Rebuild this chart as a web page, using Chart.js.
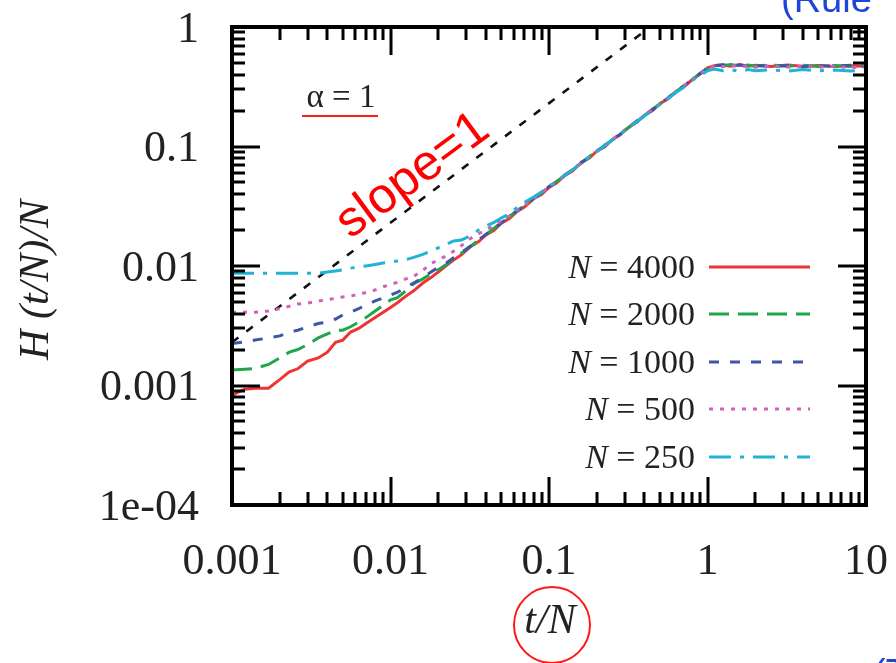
<!DOCTYPE html>
<html><head><meta charset="utf-8">
<script src="https://cdn.jsdelivr.net/npm/chart.js@4.4.1/dist/chart.umd.min.js"></script>
<style>html,body{margin:0;padding:0;background:#fff;}#wrap{width:896px;height:663px;position:relative;}</style>
</head><body><div id="wrap"><canvas id="c" width="896" height="663"></canvas></div>
<script>
// ---- data ----
const tOverN = [0.001,0.0012,0.0014,0.0017,0.002,0.0023,0.0026,0.003,0.0035,0.004,0.0045,0.005,0.0056,0.0063,0.007,0.008,0.009,0.01,0.011,0.0125,0.014,0.016,0.018,0.02,0.0225,0.025,0.028,0.032,0.036,0.04,0.045,0.05,0.056,0.063,0.07,0.08,0.09,0.1,0.112,0.125,0.14,0.16,0.18,0.2,0.225,0.25,0.28,0.32,0.36,0.4,0.45,0.5,0.56,0.63,0.7,0.8,0.9,1.0,1.1,1.25,1.4,1.6,1.8,2.0,2.5,3.2,4.0,5.0,6.3,8.0,10.0];
const h4000 = [0.00083,0.00093,0.00095,0.00095,0.00112,0.0013,0.00138,0.0016,0.0017,0.0019,0.0023,0.0024,0.0028,0.003,0.0033,0.0037,0.0041,0.0045,0.0049,0.0056,0.0062,0.0072,0.008,0.0089,0.0101,0.0112,0.0124,0.0145,0.016,0.0182,0.0199,0.0228,0.0248,0.0286,0.0312,0.0365,0.0398,0.0455,0.0497,0.057,0.062,0.0735,0.08,0.0915,0.0995,0.114,0.125,0.146,0.16,0.183,0.2,0.228,0.25,0.288,0.312,0.362,0.405,0.455,0.475,0.48,0.47,0.485,0.47,0.478,0.468,0.48,0.47,0.476,0.468,0.474,0.47];
const h2000 = [0.00135,0.00137,0.00139,0.0015,0.0017,0.0019,0.002,0.0022,0.0025,0.0027,0.0029,0.0029,0.0031,0.0034,0.0037,0.0042,0.0047,0.0052,0.0054,0.0062,0.0071,0.0078,0.0086,0.0093,0.0103,0.0115,0.0128,0.0146,0.0165,0.0183,0.0207,0.0229,0.0258,0.029,0.0318,0.0368,0.041,0.0458,0.0512,0.0568,0.0645,0.0725,0.0825,0.0905,0.103,0.113,0.128,0.145,0.165,0.181,0.206,0.226,0.256,0.285,0.32,0.362,0.41,0.452,0.48,0.475,0.485,0.472,0.48,0.47,0.482,0.47,0.478,0.468,0.476,0.47,0.472];
const h1000 = [0.00225,0.00232,0.0024,0.0025,0.0026,0.0028,0.0029,0.0031,0.0033,0.0034,0.0036,0.0039,0.0041,0.0044,0.0047,0.0051,0.0054,0.0057,0.006,0.0066,0.0072,0.008,0.0089,0.0097,0.0106,0.0117,0.0129,0.0147,0.0166,0.0184,0.0205,0.023,0.0255,0.0292,0.0316,0.037,0.0405,0.0462,0.0505,0.0575,0.0632,0.074,0.081,0.092,0.101,0.115,0.126,0.147,0.162,0.184,0.202,0.23,0.252,0.29,0.315,0.365,0.408,0.455,0.475,0.482,0.47,0.48,0.468,0.478,0.47,0.476,0.465,0.475,0.47,0.478,0.468];
const h500 = [0.0041,0.0041,0.0041,0.0042,0.0044,0.0046,0.0048,0.0049,0.0051,0.0052,0.0054,0.0055,0.0056,0.0058,0.006,0.0063,0.0067,0.007,0.0073,0.0078,0.0082,0.0092,0.0105,0.0112,0.0122,0.0133,0.0148,0.017,0.0186,0.0201,0.0218,0.0238,0.0262,0.0294,0.0322,0.0366,0.0412,0.046,0.051,0.0565,0.064,0.0728,0.082,0.091,0.1025,0.1135,0.127,0.1455,0.163,0.182,0.205,0.227,0.254,0.287,0.318,0.364,0.408,0.452,0.47,0.465,0.478,0.462,0.475,0.46,0.472,0.462,0.47,0.46,0.468,0.458,0.465];
const h250 = [0.0087,0.0087,0.0087,0.0087,0.0087,0.0087,0.0087,0.0087,0.0087,0.0089,0.0091,0.0093,0.0096,0.0098,0.01,0.0103,0.0106,0.0108,0.011,0.0113,0.0118,0.0125,0.0133,0.0142,0.0152,0.0162,0.0165,0.018,0.02,0.0216,0.0232,0.0252,0.0272,0.031,0.034,0.0378,0.0418,0.0465,0.0512,0.0575,0.0636,0.073,0.0818,0.0905,0.102,0.1125,0.1265,0.144,0.162,0.18,0.203,0.224,0.25,0.282,0.31,0.356,0.395,0.43,0.445,0.43,0.44,0.425,0.44,0.43,0.438,0.428,0.44,0.43,0.436,0.428,0.44];
const seriesN = ['4000','2000','1000','500','250'];
const slopeX = [0.001, 1];
const slopeY = [0.0023, 2.3];
const xTickValues = [0.001,0.01,0.1,1,10];
const xTickLabels = ['0.001','0.01','0.1','1','10'];
const yTickValues = [0.0001,0.001,0.01,0.1,1];
const yTickLabels = ['1e-04','0.001','0.01','0.1','1'];

const toPts = (xs, ys) => xs.map((x, i) => ({x: x, y: ys[i]}));
const styles = [
  {c:'#f03434', d:[]},
  {c:'#1fa54a', d:[20,9]},
  {c:'#3f55a8', d:[10,11]},
  {c:'#d160b8', d:[4,7]},
  {c:'#22b2d6', d:[22,9,4,9]}
];
const seriesY = [h4000,h2000,h1000,h500,h250];
const datasets = seriesY.map((ys, i) => ({
  label: 'N = ' + seriesN[i],
  data: toPts(tOverN, ys),
  borderColor: styles[i].c, borderDash: styles[i].d, borderWidth: 3,
  order: 5 - i, pointRadius: 0, showLine: true, fill: false
}));
datasets.push({label:'slope', data: toPts(slopeX, slopeY), borderColor:'#111', borderDash:[8,10], borderWidth:2.6, order: 10, pointRadius:0, showLine:true, fill:false});

const SERIF = '"Liberation Serif", "DejaVu Serif", serif';
const SANS = '"Liberation Sans", Arial, sans-serif';

const decor = {
  id: 'decor',
  afterDatasetsDraw(chart) {
    const {ctx, chartArea: a, scales: {x, y}} = chart;
    ctx.save();
    ctx.strokeStyle = '#000'; ctx.lineWidth = 3; ctx.lineCap = 'butt';
    const major = 28, minor = 13;
    ctx.beginPath();
    for (let e = -3; e <= 0; e++) {
      for (let m = 1; m <= 9; m++) {
        const v = m * Math.pow(10, e);
        const px = Math.round(x.getPixelForValue(v));
        const L = m === 1 ? major : minor;
        ctx.moveTo(px, a.bottom); ctx.lineTo(px, a.bottom - L);
        ctx.moveTo(px, a.top); ctx.lineTo(px, a.top + L);
      }
    }
    for (let e = -4; e <= -1; e++) {
      for (let m = 1; m <= 9; m++) {
        const v = m * Math.pow(10, e);
        const py = Math.round(y.getPixelForValue(v));
        const L = m === 1 ? major : minor;
        ctx.moveTo(a.left, py); ctx.lineTo(a.left + L, py);
        ctx.moveTo(a.right, py); ctx.lineTo(a.right - L, py);
      }
    }
    ctx.stroke();
    ctx.lineWidth = 4;
    ctx.strokeRect(a.left, a.top, a.right - a.left, a.bottom - a.top);

    // tick labels, placed with the scales
    ctx.fillStyle = '#222';
    ctx.font = '44px ' + SERIF;
    ctx.textBaseline = 'middle';
    ctx.textAlign = 'center';
    xTickValues.forEach((v, i) => ctx.fillText(xTickLabels[i], x.getPixelForValue(v), a.bottom + 57));
    ctx.textAlign = 'right';
    yTickValues.forEach((v, i) => ctx.fillText(yTickLabels[i], a.left - 33, y.getPixelForValue(v) + 3));

    // legend (text left, sample line right)
    const rows = [267, 314, 362, 409, 457];
    chart.data.datasets.slice(0, 5).forEach((ds, i) => {
      const yy = rows[i];
      ctx.textBaseline = 'middle';
      ctx.fillStyle = '#222';
      ctx.font = '34px ' + SERIF;
      const rest = ' = ' + seriesN[i];
      const wr = ctx.measureText(rest).width;
      ctx.textAlign = 'right';
      ctx.fillText(rest, 695, yy + 2);
      ctx.font = 'italic 34px ' + SERIF;
      ctx.fillText('N', 695 - wr, yy + 2);
      ctx.strokeStyle = ds.borderColor; ctx.lineWidth = 3;
      ctx.setLineDash(ds.borderDash);
      ctx.beginPath(); ctx.moveTo(709, yy); ctx.lineTo(810, yy); ctx.stroke();
      ctx.setLineDash([]);
    });

    // alpha label
    ctx.fillStyle = '#222'; ctx.textAlign = 'center'; ctx.textBaseline = 'alphabetic';
    ctx.font = '33px ' + SERIF;
    ctx.fillText('\u03b1 = 1', 341, 107);
    ctx.strokeStyle = '#ff1a1a'; ctx.lineWidth = 2;
    ctx.beginPath(); ctx.moveTo(302, 116); ctx.lineTo(378, 116); ctx.stroke();

    // slope label
    ctx.save();
    ctx.translate(413, 176); ctx.rotate(-36.5 * Math.PI / 180);
    ctx.fillStyle = '#ff0000'; ctx.font = '50px ' + SANS;
    ctx.textAlign = 'center'; ctx.textBaseline = 'middle';
    ctx.fillText('slope=1', 0, 0);
    ctx.restore();

    // axis titles
    ctx.fillStyle = '#222';
    ctx.font = 'italic 42px ' + SERIF; ctx.textAlign = 'center'; ctx.textBaseline = 'middle';
    ctx.fillText('t/N', 550, 622);
    ctx.strokeStyle = '#ff1a1a'; ctx.lineWidth = 2;
    ctx.beginPath(); ctx.arc(552, 625, 38, 0, Math.PI * 2); ctx.stroke();
    ctx.save();
    ctx.translate(37, 280); ctx.rotate(-Math.PI / 2);
    ctx.fillText('H (t/N)/N', 0, 0);
    ctx.restore();

    // cut-off blue notes at the picture edges
    ctx.fillStyle = '#1f45d8'; ctx.font = '38px ' + SANS; ctx.textAlign = 'left'; ctx.textBaseline = 'alphabetic';
    ctx.fillText('(Rule', 781, 12);
    ctx.fillText('(T', 873, 686);
    ctx.restore();
  }
};

new Chart(document.getElementById('c'), {
  type: 'scatter',
  data: { datasets: datasets },
  options: {
    responsive: false, animation: false, devicePixelRatio: 1,
    layout: { padding: { top: 27, right: 30, left: 0, bottom: 0 } },
    plugins: { legend: { display: false }, tooltip: { enabled: false } },
    elements: { point: { radius: 0 }, line: { tension: 0 } },
    scales: {
      x: {
        type: 'logarithmic', min: 0.001, max: 10,
        grid: { display: false, drawTicks: false }, border: { display: false },
        afterBuildTicks: s => { s.ticks = xTickValues.map(v => ({ value: v, major: true })); },
        ticks: { display: false },
        afterFit: s => { s.height = 158; }
      },
      y: {
        type: 'logarithmic', min: 0.0001, max: 1,
        grid: { display: false, drawTicks: false }, border: { display: false },
        afterBuildTicks: s => { s.ticks = yTickValues.map(v => ({ value: v, major: true })); },
        ticks: { display: false },
        afterFit: s => { s.width = 232; }
      }
    }
  },
  plugins: [decor]
});
</script>
</body></html>
